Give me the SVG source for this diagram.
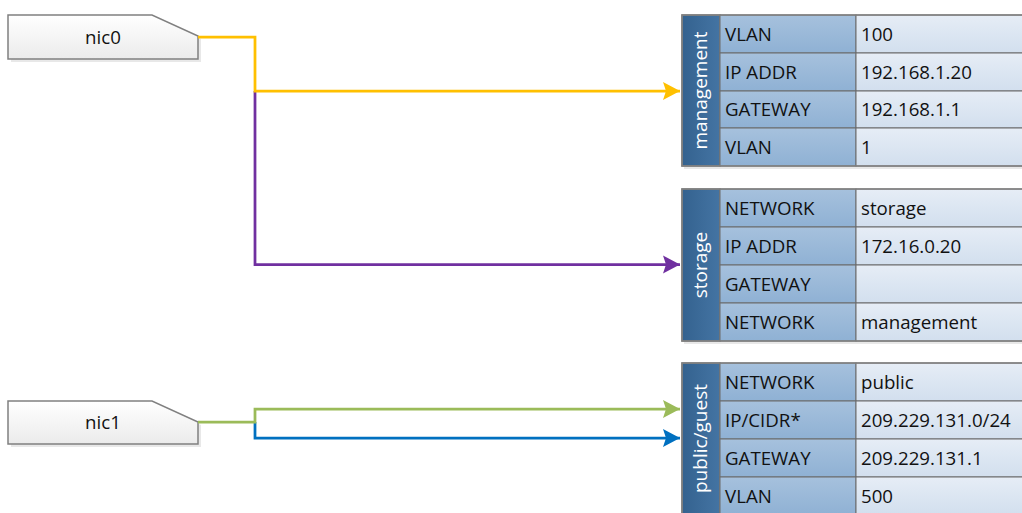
<svg xmlns="http://www.w3.org/2000/svg" width="1022" height="513" viewBox="0 0 1022 513">
<defs>
<linearGradient id="gNic" x1="0" y1="0" x2="0" y2="1"><stop offset="0" stop-color="#ffffff"/><stop offset="1" stop-color="#ebebeb"/></linearGradient>
<linearGradient id="gHead" x1="0" y1="0" x2="1" y2="0"><stop offset="0" stop-color="#34628f"/><stop offset="1" stop-color="#4474a3"/></linearGradient>
<linearGradient id="gKey" x1="0" y1="0" x2="0" y2="1"><stop offset="0" stop-color="#a6c1dd"/><stop offset="1" stop-color="#8fb1d4"/></linearGradient>
<linearGradient id="gVal" x1="0" y1="0" x2="0" y2="1"><stop offset="0" stop-color="#e6edf6"/><stop offset="1" stop-color="#d2dfee"/></linearGradient>
<marker id="aY" markerUnits="userSpaceOnUse" markerWidth="20" markerHeight="20" refX="17" refY="10" orient="auto" overflow="visible"><path d="M0,1 L17,10 L0,19 L3,10 Z" fill="#ffc000"/></marker>
<marker id="aP" markerUnits="userSpaceOnUse" markerWidth="20" markerHeight="20" refX="17" refY="10" orient="auto" overflow="visible"><path d="M0,1 L17,10 L0,19 L3,10 Z" fill="#7030a0"/></marker>
<marker id="aG" markerUnits="userSpaceOnUse" markerWidth="20" markerHeight="20" refX="17" refY="10" orient="auto" overflow="visible"><path d="M0,1 L17,10 L0,19 L3,10 Z" fill="#9bbb59"/></marker>
<marker id="aB" markerUnits="userSpaceOnUse" markerWidth="20" markerHeight="20" refX="17" refY="10" orient="auto" overflow="visible"><path d="M0,1 L17,10 L0,19 L3,10 Z" fill="#0070c0"/></marker>
</defs>
<style>
text{font-family:"Open Sans","Liberation Sans",sans-serif;font-size:18.7px;fill:#111}
.nic{fill:url(#gNic);stroke:#808080;stroke-width:1.5}
.shadow{fill:#d9d9d9;opacity:0.6}
.head{fill:url(#gHead);stroke:#808080;stroke-width:1.5}
.key{fill:url(#gKey);stroke:#6b6b6b;stroke-width:1}
.val{fill:url(#gVal);stroke:#6b6b6b;stroke-width:1}
.frame{fill:none;stroke:#808080;stroke-width:1.5}
.hl{fill:#fff;font-size:19px}
.mid{text-anchor:middle}
.c{fill:none;stroke-width:2.75}
</style>
<rect width="1022" height="513" fill="#ffffff"/>

<g id="nic0">
<path class="shadow" d="M11,18 H155 L201,39 V62 H11 Z"/>
<path class="nic" d="M8,15 H152 L198,36 V59 H8 Z"/>
<text class="mid" x="103" y="44">nic0</text>
</g>

<g id="nic1">
<path class="shadow" d="M11,404 H155 L201,425 V447 H11 Z"/>
<path class="nic" d="M8,401 H152 L198,422 V444 H8 Z"/>
<text class="mid" x="103" y="429">nic1</text>
</g>

<g id="management">
<rect class="shadow" x="684" y="18" width="340" height="151"/>
<rect class="head" x="682" y="15" width="38" height="151"/>
<rect class="key" x="720" y="15" width="136" height="38"/>
<rect class="val" x="856" y="15" width="170" height="38"/>
<rect class="key" x="720" y="53" width="136" height="38"/>
<rect class="val" x="856" y="53" width="170" height="38"/>
<rect class="key" x="720" y="91" width="136" height="37"/>
<rect class="val" x="856" y="91" width="170" height="37"/>
<rect class="key" x="720" y="128" width="136" height="38"/>
<rect class="val" x="856" y="128" width="170" height="38"/>
<rect class="frame" x="682" y="15" width="344" height="151"/>
<text class="hl mid" transform="translate(707,90.5) rotate(-90)">management</text>
<text x="725" y="41">VLAN</text><text x="861" y="41">100</text>
<text x="725" y="79">IP ADDR</text><text x="861" y="79">192.168.1.20</text>
<text x="725" y="116">GATEWAY</text><text x="861" y="116">192.168.1.1</text>
<text x="725" y="154">VLAN</text><text x="861" y="154">1</text>
</g>

<g id="storage">
<rect class="shadow" x="684" y="192" width="340" height="152"/>
<rect class="head" x="682" y="189" width="38" height="152"/>
<rect class="key" x="720" y="189" width="136" height="38"/>
<rect class="val" x="856" y="189" width="170" height="38"/>
<rect class="key" x="720" y="227" width="136" height="38"/>
<rect class="val" x="856" y="227" width="170" height="38"/>
<rect class="key" x="720" y="265" width="136" height="38"/>
<rect class="val" x="856" y="265" width="170" height="38"/>
<rect class="key" x="720" y="303" width="136" height="38"/>
<rect class="val" x="856" y="303" width="170" height="38"/>
<rect class="frame" x="682" y="189" width="344" height="152"/>
<text class="hl mid" transform="translate(707,265) rotate(-90)">storage</text>
<text x="725" y="215">NETWORK</text><text x="861" y="215">storage</text>
<text x="725" y="253">IP ADDR</text><text x="861" y="253">172.16.0.20</text>
<text x="725" y="291">GATEWAY</text>
<text x="725" y="329">NETWORK</text><text x="861" y="329">management</text>
</g>

<g id="public-guest">
<rect class="shadow" x="684" y="366" width="340" height="152"/>
<rect class="head" x="682" y="363" width="38" height="152"/>
<rect class="key" x="720" y="363" width="136" height="38"/>
<rect class="val" x="856" y="363" width="170" height="38"/>
<rect class="key" x="720" y="401" width="136" height="38"/>
<rect class="val" x="856" y="401" width="170" height="38"/>
<rect class="key" x="720" y="439" width="136" height="38"/>
<rect class="val" x="856" y="439" width="170" height="38"/>
<rect class="key" x="720" y="477" width="136" height="38"/>
<rect class="val" x="856" y="477" width="170" height="38"/>
<rect class="frame" x="682" y="363" width="344" height="152"/>
<text class="hl mid" transform="translate(707,438.5) rotate(-90)">public/guest</text>
<text x="725" y="389">NETWORK</text><text x="861" y="389">public</text>
<text x="725" y="427">IP/CIDR*</text><text x="861" y="427">209.229.131.0/24</text>
<text x="725" y="465">GATEWAY</text><text x="861" y="465">209.229.131.1</text>
<text x="725" y="503">VLAN</text><text x="861" y="503">500</text>
</g>

<g id="connectors">
<path class="c" stroke="#7030a0" d="M255,91 V264.5 H680" marker-end="url(#aP)"/>
<path class="c" stroke="#ffc000" d="M198,37 H255 V91 H680" marker-end="url(#aY)"/>
<path class="c" stroke="#0070c0" d="M255,422 V438 H680" marker-end="url(#aB)"/>
<path class="c" stroke="#9bbb59" d="M198,422 H255 V409 H680" marker-end="url(#aG)"/>
</g>
</svg>
